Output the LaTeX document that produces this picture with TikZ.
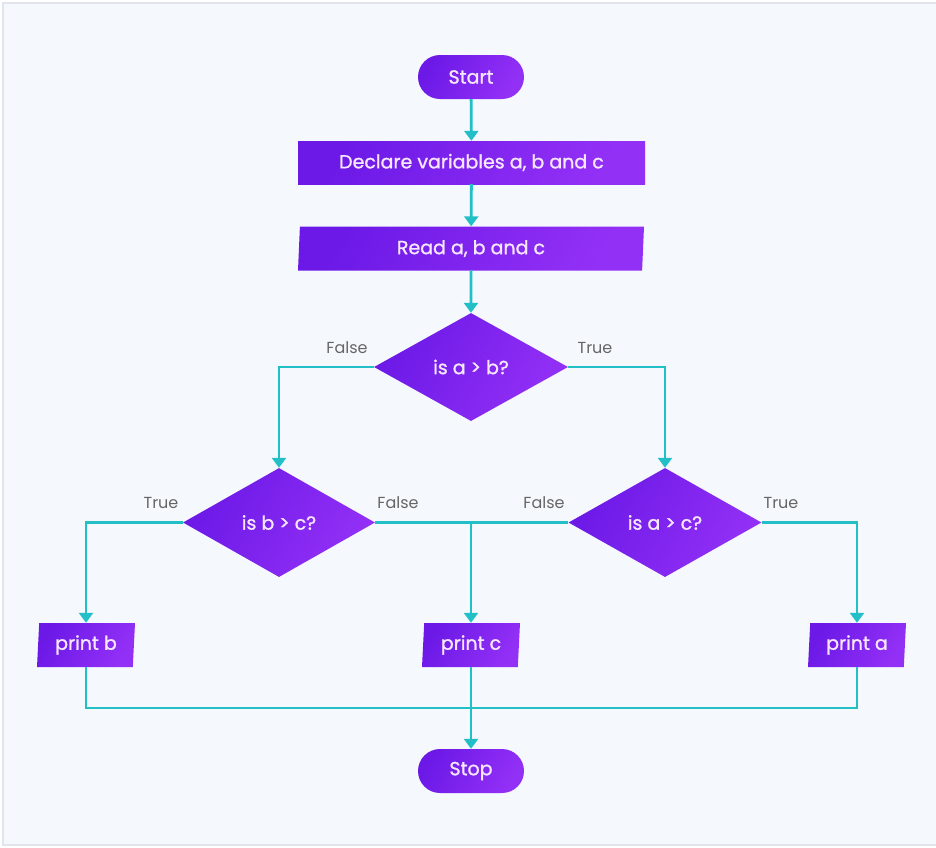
\documentclass[tikz,border=0pt]{standalone}
\usepackage{fontspec}
\setmainfont{Poppins}
\newfontfamily\boxfont{Poppins}[FakeBold=1.2]
\usetikzlibrary{shapes.geometric,arrows.meta}
\definecolor{bgc}{HTML}{F5F8FD}
\definecolor{borderc}{HTML}{E2E5EC}
\definecolor{pleft}{HTML}{6C19E7}
\definecolor{pright}{HTML}{9330F6}
\definecolor{teal}{HTML}{22C0C6}
\definecolor{txt}{HTML}{F7E6FF}
\definecolor{lbl}{HTML}{666666}
\tikzset{
  shp/.style={inner sep=0pt, text=txt, font=\boxfont\fontsize{19}{22}\selectfont,
    left color=pleft, right color=pright, shading angle=60, draw=none},
  term/.style={shp, rectangle, rounded corners=22pt, minimum width=106pt, minimum height=44pt},
  proc/.style={shp, rectangle, minimum width=347pt, minimum height=43pt},
  iobox/.style={shp, trapezium, trapezium left angle=83.5, trapezium right angle=96.5,
    trapezium stretches body, minimum height=44pt},
  dec/.style={shp, diamond, minimum width=194pt, minimum height=108pt},
  link/.style={draw=teal, line width=2.8pt},
  arr/.style={link, -{Triangle[width=14pt,length=10pt]}},
  lab/.style={text=lbl, font=\fontsize{16}{18}\selectfont, inner sep=0pt}
}
\begin{document}
\begin{tikzpicture}[x=1pt,y=-1pt]
\useasboundingbox (0,0) rectangle (936,847);
\fill[white] (0,0) rectangle (936,847);
\draw[fill=bgc, draw=borderc, line width=1.2pt] (3,3) rectangle (945,845);

\node[term] (start) at (471,77) {Start};
\node[proc] (decl) at (471.5,162.5) {Declare variables a, b and c};
\node[iobox, minimum width=346pt] (read) at (471,248.5) {Read a, b and c};
\node[dec] (d1) at (471,367) {is a > b?};
\node[dec, minimum width=192pt, minimum height=109pt] (d2) at (279,522.5) {is b > c?};
\node[dec, minimum width=193pt, minimum height=109pt] (d3) at (665,522.5) {is a > c?};
\node[iobox, minimum width=98pt] (pb) at (86,645) {print b};
\node[iobox, minimum width=98pt] (pc) at (471,645) {print c};
\node[iobox, minimum width=98pt] (pa) at (857,645) {print a};
\node[term] (stop) at (471,771) {Stop};

\draw[arr] (start) -- (decl);
\draw[arr] (decl) -- (read);
\draw[arr] (read) -- (d1);
\draw[arr] (d1.west) -| (d2.north);
\draw[arr] (d1.east) -| (d3.north);
\draw[arr] (d2.west) -| (pb.north -| pb.center);
\draw[arr] (d3.east) -| (pa.north -| pa.center);
\draw[link] (d2.east) -- (d3.west);
\coordinate (j1) at (pc.center |- d2.east);
\draw[arr] (j1) -- (pc.north -| pc.center);
\coordinate (ybot) at (0,708);
\coordinate (bl) at (pb.center |- ybot);
\coordinate (br) at (pa.center |- ybot);
\draw[link, line join=miter] (pb.south -| pb.center) -- (bl) -- (br) -- (pa.south -| pa.center);
\draw[arr] (pc.south -| pc.center) -- (stop.north);

\node[lab] (l1) at (347,348) {False};
\node[lab] (l2) at (595,348) {True};
\node[lab] (l3) at (161,503) {True};
\node[lab] (l4) at (398,503) {False};
\node[lab] (l5) at (544,503) {False};
\node[lab] (l6) at (781,503) {True};
\end{tikzpicture}
\end{document}
